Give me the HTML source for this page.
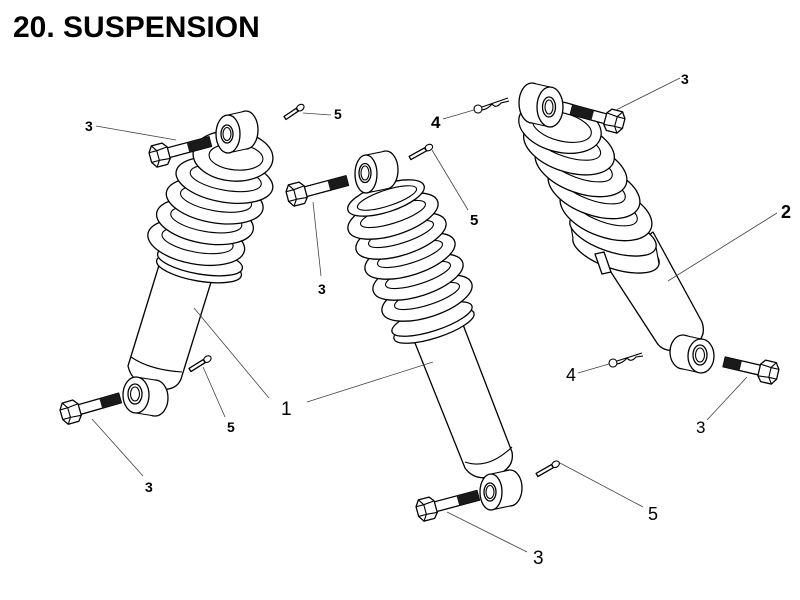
<!DOCTYPE html>
<html><head><meta charset="utf-8"><style>
html,body{margin:0;padding:0;background:#fff;}
svg{display:block;}
.s{fill:#fff;stroke:#000;stroke-width:1.3;stroke-linejoin:round;}
.n{fill:none;stroke:#000;stroke-width:1.1;}
.l{fill:none;stroke:#444;stroke-width:0.8;}
.t{font-family:"Liberation Sans",Arial,sans-serif;fill:#000;}
</style></head><body>
<svg width="800" height="600" viewBox="0 0 800 600" xmlns="http://www.w3.org/2000/svg">
<rect width="800" height="600" fill="#fff"/>
<text class="t" x="13" y="37" font-size="30" font-weight="bold">20. SUSPENSION</text>

<!-- ============ LEFT SHOCK (1) ============ -->
<path class="s" d="M160,262 L212,279 L181,379 Q176,392 155,389 Q132,384 128,366 Z"/>
<path class="n" d="M131,357 Q150,370 182,372"/>
<ellipse class="s" cx="155" cy="398" rx="13" ry="18"/>
<path d="M136,377 L155,380 L155,416 L136,413 Z" fill="#fff"/>
<path class="n" d="M136,377 L155,380 M136,413 L155,416"/>
<ellipse class="s" cx="136" cy="395" rx="13" ry="18"/>
<ellipse class="s" cx="135" cy="394" rx="7" ry="10"/>
<ellipse class="n" cx="135" cy="394" rx="4.5" ry="7"/>
<ellipse class="s" cx="199" cy="268" rx="43" ry="13" transform="rotate(10 199 268)"/>
<ellipse class="s" cx="200" cy="261" rx="43" ry="13" transform="rotate(10 200 261)"/>
<g transform="rotate(10 210 210)">
<ellipse class="s" cx="202" cy="244" rx="49" ry="22"/><ellipse class="n" cx="203" cy="242" rx="36" ry="12"/>
<ellipse class="s" cx="207" cy="222" rx="49" ry="22"/><ellipse class="n" cx="208" cy="220" rx="36" ry="12"/>
<ellipse class="s" cx="213" cy="200" rx="49" ry="22"/><ellipse class="n" cx="214" cy="198" rx="36" ry="12"/>
<ellipse class="s" cx="219" cy="178" rx="49" ry="22"/><ellipse class="n" cx="220" cy="176" rx="36" ry="12"/>
</g>
<ellipse class="s" cx="233" cy="156" rx="40" ry="25" transform="rotate(5 233 156)"/>
<ellipse class="n" cx="236" cy="157" rx="27" ry="13" transform="rotate(5 236 157)"/>
<ellipse class="s" cx="246" cy="130" rx="12" ry="19"/>
<path d="M228,115 L246,111 L246,149 L228,153 Z" fill="#fff"/>
<path class="n" d="M228,115 L246,111 M228,153 L246,149"/>
<ellipse class="s" cx="228" cy="134" rx="12" ry="19"/>
<ellipse class="s" cx="227" cy="134" rx="6" ry="9"/>
<ellipse class="n" cx="227" cy="134" rx="4" ry="6.5"/>

<!-- ============ MIDDLE SHOCK (1) ============ -->
<path class="s" d="M413,338 L462,322 L512,452 Q515,468 495,476 Q475,482 465,468 Z"/>
<path class="n" d="M465,462 Q488,470 512,447"/>
<ellipse class="s" cx="510" cy="488" rx="12" ry="18"/>
<path d="M491,474 L510,470 L510,506 L491,510 Z" fill="#fff"/>
<path class="n" d="M491,474 L510,470 M491,510 L510,506"/>
<ellipse class="s" cx="491" cy="492" rx="11" ry="18"/>
<ellipse class="s" cx="490" cy="492" rx="6" ry="9"/>
<ellipse class="n" cx="490" cy="492" rx="4" ry="6.5"/>
<ellipse class="s" cx="434" cy="326" rx="42" ry="12" transform="rotate(-18 434 326)"/>
<ellipse class="s" cx="432" cy="319" rx="42" ry="12" transform="rotate(-18 432 319)"/>
<ellipse class="s" cx="427" cy="298" rx="47" ry="19" transform="rotate(-18 427 298)"/><ellipse class="n" cx="427" cy="296" rx="34" ry="9" transform="rotate(-18 427 296)"/>
<ellipse class="s" cx="418" cy="277" rx="47" ry="19" transform="rotate(-18 418 277)"/><ellipse class="n" cx="418" cy="275" rx="34" ry="9" transform="rotate(-18 418 275)"/>
<ellipse class="s" cx="410" cy="256" rx="47" ry="19" transform="rotate(-18 410 256)"/><ellipse class="n" cx="410" cy="254" rx="34" ry="9" transform="rotate(-18 410 254)"/>
<ellipse class="s" cx="401" cy="236" rx="47" ry="19" transform="rotate(-18 401 236)"/><ellipse class="n" cx="401" cy="234" rx="34" ry="9" transform="rotate(-18 401 234)"/>
<ellipse class="s" cx="393" cy="216" rx="47" ry="19" transform="rotate(-18 393 216)"/><ellipse class="n" cx="393" cy="214" rx="34" ry="9" transform="rotate(-18 393 214)"/>
<ellipse class="s" cx="386" cy="198" rx="40" ry="14" transform="rotate(-18 386 198)"/>
<ellipse class="n" cx="387" cy="198" rx="31" ry="8" transform="rotate(-18 387 198)"/>
<ellipse class="s" cx="386" cy="170" rx="12" ry="19"/>
<path d="M366,155 L386,151 L386,189 L366,193 Z" fill="#fff"/>
<path class="n" d="M366,155 L386,151 M366,193 L386,189"/>
<ellipse class="s" cx="366" cy="174" rx="11" ry="19"/>
<ellipse class="s" cx="365" cy="173" rx="6" ry="9.5"/>
<ellipse class="n" cx="365" cy="173" rx="4" ry="7"/>

<!-- ============ RIGHT SHOCK (2) ============ -->
<path class="s" d="M607,266 L653,232 L702,322 Q708,340 688,348 Q665,355 657,343 Z"/>
<ellipse class="s" cx="683" cy="352" rx="13" ry="17"/>
<path d="M683,335 L701,339 L701,373 L683,369 Z" fill="#fff"/>
<path class="n" d="M683,335 L701,339 M683,369 L701,373"/>
<ellipse class="s" cx="701" cy="356" rx="13" ry="17"/>
<ellipse class="s" cx="700" cy="355" rx="7" ry="10"/>
<ellipse class="n" cx="700" cy="355" rx="4.5" ry="7"/>
<!-- collar -->
<ellipse class="s" cx="616" cy="251" rx="45" ry="18" transform="rotate(18 616 251)"/>
<path d="M570,221 L656,247 L659,264 L573,238 Z" fill="#fff"/>
<path class="n" d="M570,221 L573,238 M656,247 L659,264"/>
<path class="s" d="M595,254 L604,252 L611,272 L602,274 Z"/>
<ellipse class="s" cx="613" cy="234" rx="45" ry="18" transform="rotate(18 613 234)"/>
<!-- coils -->
<ellipse class="s" cx="606" cy="212" rx="48" ry="25" transform="rotate(20 606 212)"/><ellipse class="n" cx="605" cy="209" rx="34" ry="13" transform="rotate(20 605 209)"/>
<ellipse class="s" cx="594" cy="190" rx="48" ry="25" transform="rotate(20 594 190)"/><ellipse class="n" cx="593" cy="187" rx="34" ry="13" transform="rotate(20 593 187)"/>
<ellipse class="s" cx="581" cy="168" rx="48" ry="25" transform="rotate(20 581 168)"/><ellipse class="n" cx="580" cy="165" rx="34" ry="13" transform="rotate(20 580 165)"/>
<ellipse class="s" cx="569" cy="147" rx="47" ry="25" transform="rotate(18 569 147)"/><ellipse class="n" cx="568" cy="144" rx="34" ry="13" transform="rotate(18 568 144)"/>
<ellipse class="s" cx="560" cy="127" rx="42" ry="25" transform="rotate(14 560 127)"/>
<ellipse class="n" cx="562" cy="127" rx="30" ry="14" transform="rotate(14 562 127)"/>
<ellipse class="s" cx="532" cy="103" rx="13" ry="20"/>
<path d="M532,83 L550,87 L550,127 L532,123 Z" fill="#fff"/>
<path class="n" d="M532,83 L550,87 M532,123 L550,127"/>
<ellipse class="s" cx="550" cy="107" rx="13" ry="20"/>
<ellipse class="s" cx="549" cy="107" rx="6.5" ry="10"/>
<ellipse class="n" cx="549" cy="107" rx="4" ry="7"/>

<!-- ============ BOLTS (3) ============ -->
<g transform="translate(160,155) rotate(-15)">
 <path class="s" d="M8,-5 L52,-5 L52,5 L8,5 Z"/><rect x="29" y="-5" width="23" height="10" fill="#1a1a1a"/>
 <path class="s" d="M-10,-5 L-6,-11 L5,-11 L9,-6 L9,6 L5,11 L-6,11 L-10,5 Z"/>
 <path class="n" d="M-6,-11 L-2,-5 L-2,5 L-6,11 M-10,-5 L-2,-5 M-10,5 L-2,5 M-2,-5 L9,-6 M-2,5 L9,6"/>
</g>
<g transform="translate(71,412) rotate(-16)">
 <path class="s" d="M8,-5 L51,-5 L51,5 L8,5 Z"/><rect x="31" y="-5" width="20" height="10" fill="#1a1a1a"/>
 <path class="s" d="M-10,-5 L-6,-11 L5,-11 L9,-6 L9,6 L5,11 L-6,11 L-10,5 Z"/>
 <path class="n" d="M-6,-11 L-2,-5 L-2,5 L-6,11 M-10,-5 L-2,-5 M-10,5 L-2,5 M-2,-5 L9,-6 M-2,5 L9,6"/>
</g>
<g transform="translate(297,194) rotate(-15)">
 <path class="s" d="M8,-5 L52,-5 L52,5 L8,5 Z"/><rect x="33" y="-5" width="19" height="10" fill="#1a1a1a"/>
 <path class="s" d="M-10,-5 L-6,-11 L5,-11 L9,-6 L9,6 L5,11 L-6,11 L-10,5 Z"/>
 <path class="n" d="M-6,-11 L-2,-5 L-2,5 L-6,11 M-10,-5 L-2,-5 M-10,5 L-2,5 M-2,-5 L9,-6 M-2,5 L9,6"/>
</g>
<g transform="translate(427,509) rotate(-15)">
 <path class="s" d="M8,-5 L53,-5 L53,5 L8,5 Z"/><rect x="32" y="-5" width="21" height="10" fill="#1a1a1a"/>
 <path class="s" d="M-10,-5 L-6,-11 L5,-11 L9,-6 L9,6 L5,11 L-6,11 L-10,5 Z"/>
 <path class="n" d="M-6,-11 L-2,-5 L-2,5 L-6,11 M-10,-5 L-2,-5 M-10,5 L-2,5 M-2,-5 L9,-6 M-2,5 L9,6"/>
</g>
<g transform="translate(614,121) rotate(195)">
 <path class="s" d="M8,-5 L44,-5 L44,5 L8,5 Z"/><rect x="22" y="-5" width="22" height="10" fill="#1a1a1a"/>
 <path class="s" d="M-10,-5 L-6,-11 L5,-11 L9,-6 L9,6 L5,11 L-6,11 L-10,5 Z"/>
 <path class="n" d="M-6,-11 L-2,-5 L-2,5 L-6,11 M-10,-5 L-2,-5 M-10,5 L-2,5 M-2,-5 L9,-6 M-2,5 L9,6"/>
</g>
<g transform="translate(768,372) rotate(193)">
 <path class="s" d="M8,-5 L45,-5 L45,5 L8,5 Z"/><rect x="28" y="-5" width="17" height="10" fill="#1a1a1a"/>
 <path class="s" d="M-10,-5 L-6,-11 L5,-11 L9,-6 L9,6 L5,11 L-6,11 L-10,5 Z"/>
 <path class="n" d="M-6,-11 L-2,-5 L-2,5 L-6,11 M-10,-5 L-2,-5 M-10,5 L-2,5 M-2,-5 L9,-6 M-2,5 L9,6"/>
</g>

<!-- ============ COTTER PINS (5) ============ -->
<g transform="translate(285,118) rotate(-34)"><path class="s" d="M0,-1.8 L15,-1.8 L15,1.8 L0,1.8 Z"/><ellipse class="n" cx="18.5" cy="0" rx="4" ry="3"/></g>
<g transform="translate(190,370) rotate(-32)"><path class="s" d="M0,-1.8 L17,-1.8 L17,1.8 L0,1.8 Z"/><ellipse class="n" cx="20.5" cy="0" rx="4" ry="3"/></g>
<g transform="translate(410,158) rotate(-29)"><path class="s" d="M0,-1.8 L18,-1.8 L18,1.8 L0,1.8 Z"/><ellipse class="n" cx="21.5" cy="0" rx="4" ry="3"/></g>
<g transform="translate(537,475) rotate(-30)"><path class="s" d="M0,-1.8 L18,-1.8 L18,1.8 L0,1.8 Z"/><ellipse class="n" cx="21.5" cy="0" rx="4" ry="3"/></g>

<!-- ============ CLIPS (4) ============ -->
<circle class="n" cx="478" cy="109" r="4"/>
<path class="n" d="M482,107 L508,98 M482,110 Q488,109 492,104 Q496,109 501,103 L509,101"/>
<circle class="n" cx="613" cy="363" r="4"/>
<path class="n" d="M617,361 L642,353 M617,364 Q623,363 627,358 Q631,363 636,357 L643,356"/>

<!-- ============ LEADERS ============ -->
<path class="l" d="M96,126 L176,140"/>
<path class="l" d="M303,113 L331,115"/>
<path class="l" d="M321,276 L313,202"/>
<path class="l" d="M269,398 L194,308"/>
<path class="l" d="M307,402 L433,362"/>
<path class="l" d="M225,417 L203,367"/>
<path class="l" d="M143,476 L92,419"/>
<path class="l" d="M443,119 L474,110"/>
<path class="l" d="M468,210 L432,150"/>
<path class="l" d="M680,78 L616,110"/>
<path class="l" d="M777,213 L668,281"/>
<path class="l" d="M578,373 L609,364"/>
<path class="l" d="M707,420 L747,377"/>
<path class="l" d="M643,507 L560,463"/>
<path class="l" d="M527,552 L447,512"/>

<!-- ============ LABELS ============ -->
<g class="t">
<text x="85" y="131" font-size="14" font-weight="bold">3</text>
<text x="334" y="119" font-size="14" font-weight="bold">5</text>
<text x="318" y="294" font-size="14" font-weight="bold">3</text>
<text x="281" y="415" font-size="19">1</text>
<text x="227" y="432" font-size="14" font-weight="bold">5</text>
<text x="145" y="492" font-size="14" font-weight="bold">3</text>
<text x="431" y="128" font-size="17" font-weight="bold">4</text>
<text x="470" y="225" font-size="15" font-weight="bold">5</text>
<text x="681" y="84" font-size="14" font-weight="bold">3</text>
<text x="781" y="218" font-size="18" font-weight="bold">2</text>
<text x="566" y="381" font-size="18">4</text>
<text x="696" y="433" font-size="17">3</text>
<text x="648" y="520" font-size="18">5</text>
<text x="533" y="564" font-size="19">3</text>
</g>
</svg>
</body></html>
